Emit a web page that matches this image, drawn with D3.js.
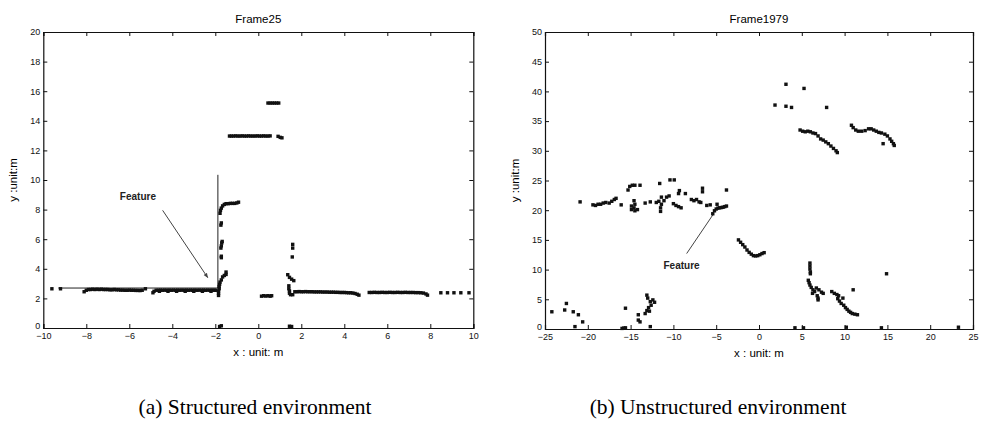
<!DOCTYPE html>
<html>
<head>
<meta charset="utf-8">
<script src="https://cdn.jsdelivr.net/npm/d3@7"></script>
<style>
  body { margin: 0; background: #fff; }
  svg { display: block; }
  .tick text { font-family: "Liberation Sans", Arial, sans-serif; font-size: 9px; fill: #111; }
  .domain, .tick line { stroke: #111; }
</style>
</head>
<body>
<svg id="fig"></svg>
<script>
const width = 981, height = 426;

// ---- Frame25 (structured) ----
const leftTitle = "Frame25";
const leftXTicks = [-10, -8, -6, -4, -2, 0, 2, 4, 6, 8, 10];
const leftYTicks = [0, 2, 4, 6, 8, 10, 12, 14, 16, 18, 20];
const leftPoints = [
  // sparse far left
  [-9.6, 2.65], [-9.2, 2.65],
  // wall segment A
  [-8.1, 2.45], [-8.0, 2.55], [-7.9, 2.6], [-7.8, 2.6], [-7.7, 2.62], [-7.6, 2.6], [-7.5, 2.62], [-7.4, 2.6],
  [-7.3, 2.62], [-7.2, 2.6], [-7.1, 2.6], [-7.0, 2.6], [-6.9, 2.58], [-6.8, 2.58], [-6.7, 2.6], [-6.6, 2.58],
  [-6.5, 2.58], [-6.4, 2.56], [-6.3, 2.56], [-6.2, 2.55], [-6.1, 2.55], [-6.0, 2.56], [-5.9, 2.55], [-5.8, 2.55],
  [-5.7, 2.54], [-5.6, 2.54], [-5.5, 2.53], [-5.4, 2.55], [-5.25, 2.65],
  // wall segment B
  [-4.9, 2.38], [-4.85, 2.48], [-4.75, 2.55], [-4.65, 2.55], [-4.55, 2.56], [-4.45, 2.55], [-4.35, 2.56], [-4.25, 2.55],
  [-4.15, 2.56], [-4.05, 2.55], [-3.95, 2.56], [-3.85, 2.55], [-3.75, 2.56], [-3.65, 2.55], [-3.55, 2.56], [-3.45, 2.55],
  [-3.35, 2.56], [-3.25, 2.55], [-3.15, 2.56], [-3.05, 2.55], [-2.95, 2.56], [-2.85, 2.55], [-2.75, 2.56], [-2.65, 2.55],
  [-2.55, 2.56], [-2.45, 2.55], [-2.35, 2.56], [-2.25, 2.55], [-2.15, 2.56], [-2.05, 2.55], [-1.98, 2.55],
  [-4.6, 2.48], [-4.2, 2.48], [-3.8, 2.48], [-3.4, 2.48], [-3.0, 2.48], [-2.6, 2.48], [-2.2, 2.48],
  // corner column
  [-1.85, 2.2], [-1.85, 2.35], [-1.85, 2.5], [-1.82, 2.65], [-1.82, 2.8], [-1.8, 2.95], [-1.78, 3.1],
  [-1.72, 3.25], [-1.66, 3.45], [-1.58, 3.55], [-1.5, 3.62], [-1.5, 3.78],
  [-1.72, 4.75], [-1.72, 4.85], [-1.74, 5.4], [-1.72, 5.55], [-1.7, 5.75], [-1.68, 5.85],
  [-1.74, 6.95], [-1.72, 7.1],
  [-1.78, 7.75], [-1.76, 7.95], [-1.72, 8.1], [-1.66, 8.25], [-1.58, 8.35], [-1.5, 8.4], [-1.4, 8.4],
  [-1.3, 8.42], [-1.2, 8.42], [-1.1, 8.42], [-1.0, 8.45], [-0.92, 8.5],
  [-1.8, 0.1], [-1.72, 0.15],
  // far wall y=13 and 15.2
  [-1.34, 12.97], [-1.25, 12.97], [-1.15, 12.97], [-1.05, 12.98], [-0.95, 12.97], [-0.85, 12.97], [-0.75, 12.98],
  [-0.65, 12.97], [-0.55, 12.97], [-0.45, 12.98], [-0.35, 12.97], [-0.25, 12.97], [-0.15, 12.97], [-0.05, 12.98],
  [0.05, 12.97], [0.15, 12.97], [0.25, 12.98], [0.35, 12.97], [0.45, 12.97], [0.55, 12.98],
  [0.92, 12.95], [1.02, 12.88], [1.1, 12.85],
  [0.45, 15.2], [0.55, 15.2], [0.65, 15.2], [0.75, 15.2], [0.85, 15.2], [0.95, 15.2],
  // small block y=2.2
  [0.15, 2.15], [0.25, 2.18], [0.35, 2.16], [0.45, 2.18], [0.55, 2.15], [0.62, 2.18],
  // pillar near x=1.5
  [1.6, 5.65], [1.6, 5.4], [1.58, 4.8],
  [1.37, 3.6], [1.45, 3.42], [1.55, 3.3], [1.65, 3.2],
  [1.42, 2.85], [1.42, 2.65], [1.45, 2.5], [1.45, 2.35], [1.5, 2.25], [1.6, 2.25],
  [1.45, 0.12], [1.55, 0.1],
  // right wall
  [1.7, 2.45], [1.8, 2.45], [1.9, 2.46], [2.0, 2.45], [2.1, 2.45], [2.2, 2.46], [2.3, 2.45], [2.4, 2.45],
  [2.5, 2.45], [2.6, 2.44], [2.7, 2.44], [2.8, 2.44], [2.9, 2.44], [3.0, 2.43], [3.1, 2.43], [3.2, 2.43],
  [3.3, 2.42], [3.4, 2.42], [3.5, 2.42], [3.6, 2.41], [3.7, 2.41], [3.8, 2.4], [3.9, 2.4], [4.0, 2.4],
  [4.1, 2.39], [4.2, 2.38], [4.3, 2.38], [4.4, 2.36], [4.5, 2.33], [4.6, 2.28], [4.68, 2.22],
  [5.16, 2.4], [5.28, 2.4], [5.4, 2.41], [5.52, 2.4], [5.64, 2.4], [5.76, 2.41], [5.88, 2.4], [6.0, 2.4],
  [6.12, 2.41], [6.24, 2.4], [6.36, 2.4], [6.48, 2.41], [6.6, 2.4], [6.72, 2.4], [6.84, 2.41], [6.96, 2.4],
  [7.08, 2.4], [7.2, 2.4], [7.32, 2.39], [7.44, 2.39], [7.56, 2.38], [7.68, 2.36], [7.8, 2.3], [7.87, 2.22],
  [8.49, 2.38], [8.8, 2.38], [9.1, 2.38], [9.42, 2.38], [9.8, 2.38]
];
// feature guide lines and arrow (data coords)
const leftGuide = [[-9.3, 2.7], [-1.88, 2.7], [-1.88, 10.35]];
const leftArrow = [[-4.45, 7.95], [-2.35, 3.4]];
const leftLabel = { text: "Feature", x: -5.6, y: 8.85 };

// ---- Frame1979 (unstructured) ----
const rightTitle = "Frame1979";
const rightXTicks = [-25, -20, -15, -10, -5, 0, 5, 10, 15, 20, 25];
const rightYTicks = [0, 5, 10, 15, 20, 25, 30, 35, 40, 45, 50];
const rightPoints = [
  // isolated far points
  [3.15, 41.2], [5.26, 40.5], [1.87, 37.7], [3.15, 37.5], [3.8, 37.3], [7.9, 37.3],
  // upper right walls
  [4.8, 33.5], [5.1, 33.3], [5.4, 33.2], [5.7, 33.3], [6.0, 33.2], [6.3, 33.0], [6.6, 32.9], [6.9, 32.5],
  [7.2, 32.0], [7.5, 31.8], [7.8, 31.5], [8.1, 31.2], [8.4, 30.8], [8.7, 30.4], [9.0, 30.0], [9.15, 29.7],
  [10.8, 34.3], [11.0, 33.9], [11.3, 33.5], [11.6, 33.3], [12.0, 33.3], [12.4, 33.4], [12.8, 33.7], [13.1, 33.7],
  [13.4, 33.5], [13.7, 33.3], [14.0, 33.1], [14.3, 33.0], [14.7, 32.8], [15.0, 32.5], [15.3, 32.0], [15.5, 31.6],
  [15.7, 31.2], [15.8, 30.9], [14.5, 31.2],
  // left scattered band around y=21
  [-20.9, 21.4],
  [-19.4, 20.9], [-19.1, 20.8], [-18.8, 21.0], [-18.5, 21.0], [-18.2, 21.2], [-17.9, 21.3],
  [-17.5, 21.2], [-17.2, 21.5], [-16.9, 21.8], [-16.7, 22.0],
  [-16.1, 20.9],
  [-15.3, 23.4], [-15.1, 24.0], [-14.8, 24.2], [-14.5, 24.2], [-13.9, 24.2],
  [-14.6, 21.6], [-14.5, 21.0], [-14.6, 20.4], [-14.9, 20.1], [-14.5, 19.9], [-14.2, 20.1], [-14.9, 20.7],
  [-13.3, 21.2], [-12.7, 21.4],
  [-11.6, 24.5], [-10.4, 25.1], [-9.9, 25.1],
  [-12.0, 21.3], [-11.7, 21.5], [-11.4, 22.2], [-11.4, 21.0], [-11.5, 20.4], [-11.5, 19.8], [-11.1, 21.6],
  [-10.8, 22.2], [-10.5, 22.4],
  [-9.4, 22.8], [-9.3, 23.3],
  [-10.0, 21.1], [-9.7, 20.8], [-9.4, 20.6], [-9.1, 20.4],
  [-8.6, 22.8],
  [-7.9, 21.8], [-7.6, 21.6], [-7.3, 21.8], [-7.0, 21.4], [-6.8, 21.3],
  [-6.6, 23.7], [-6.6, 23.1],
  [-6.1, 20.8], [-5.7, 20.9], [-4.9, 21.0],
  [-3.8, 23.4],
  // feature segment
  [-5.4, 19.4], [-5.2, 19.9], [-5.0, 20.2], [-4.8, 20.35], [-4.6, 20.4], [-4.4, 20.45], [-4.2, 20.5],
  [-4.0, 20.6], [-3.8, 20.7],
  // curve near origin
  [-2.4, 15.0], [-2.15, 14.6], [-1.9, 14.2], [-1.65, 13.8], [-1.4, 13.3], [-1.15, 12.9], [-0.9, 12.6],
  [-0.65, 12.35], [-0.4, 12.3], [-0.15, 12.35], [0.1, 12.5], [0.35, 12.7], [0.6, 12.85],
  // cluster right of origin
  [5.95, 11.1], [5.95, 10.6], [5.95, 10.1], [6.0, 9.6], [6.0, 9.3],
  [5.76, 8.2], [5.85, 7.8], [5.95, 7.4], [6.1, 7.0], [6.3, 6.6], [6.5, 6.3], [6.25, 6.0],
  [6.7, 6.9], [7.0, 6.6], [7.3, 6.2], [7.5, 6.0], [6.8, 5.6], [6.9, 5.2], [6.9, 4.9],
  [8.5, 6.3], [8.8, 6.0], [9.1, 5.8], [9.3, 5.6],
  [9.2, 5.1], [9.4, 4.7], [9.6, 4.3], [9.8, 5.2], [9.9, 4.0], [10.1, 3.6], [10.3, 3.3], [10.5, 3.0],
  [10.7, 2.8], [10.9, 2.6], [11.2, 2.5], [11.5, 2.4],
  [11.0, 6.6], [14.9, 9.3],
  // bottom-left scatter
  [-24.2, 2.9], [-22.7, 3.2], [-22.5, 4.3], [-21.7, 2.9], [-21.1, 2.4], [-20.6, 1.2], [-21.5, 0.4],
  [-16.0, 0.1], [-15.8, 0.15], [-15.6, 0.2], [-15.6, 3.5], [-14.1, 2.4], [-14.1, 1.5], [-13.9, 1.2],
  [-13.1, 5.7], [-13.0, 5.2], [-12.7, 4.6], [-12.4, 4.9], [-12.2, 4.5], [-12.6, 4.0], [-12.9, 3.6],
  [-13.1, 3.1], [-13.3, 2.6], [-12.8, 3.0], [-12.7, 0.4],
  // points on the floor line
  [4.2, 0.2], [5.2, 0.2], [10.2, 0.3], [14.3, 0.2], [23.3, 0.3]
];
const rightArrow = [[-5.35, 19.3], [-8.45, 12.7]];
const rightLabel = { text: "Feature", x: -9.05, y: 10.6 };

const captions = ["(a) Structured environment", "(b) Unstructured environment"];

const svg = d3.select("#fig").attr("width", width).attr("height", height);

svg.append("defs").append("marker")
  .attr("id", "head")
  .attr("viewBox", "0 0 10 10")
  .attr("refX", 9).attr("refY", 5)
  .attr("markerWidth", 5).attr("markerHeight", 5)
  .attr("orient", "auto")
  .append("path").attr("d", "M0,1 L10,5 L0,9 z").attr("fill", "#444");

function drawPanel(cfg) {
  const x = d3.scaleLinear().domain(cfg.xDomain).range([cfg.left, cfg.right]);
  const y = d3.scaleLinear().domain(cfg.yDomain).range([cfg.bottom, cfg.top]);
  const g = svg.append("g");

  g.append("g").attr("transform", `translate(0,${cfg.bottom})`)
    .call(d3.axisBottom(x).tickValues(cfg.xTicks).tickSize(-4).tickPadding(5)
      .tickFormat(d => d < 0 ? "\u2212" + Math.abs(d) : d));
  g.append("g").attr("transform", `translate(0,${cfg.top})`)
    .call(d3.axisTop(x).tickValues(cfg.xTicks).tickSize(-4).tickFormat(""));
  // y axis: the 0 label sits a little above the corner, as in the original
  g.append("g").attr("transform", `translate(${cfg.left},0)`)
    .call(d3.axisLeft(y).tickValues(cfg.yTicks).tickSize(-4).tickPadding(3))
    .selectAll(".tick text").attr("dy", d => d === 0 ? "0.1em" : "0.32em");
  g.append("g").attr("transform", `translate(${cfg.right},0)`)
    .call(d3.axisRight(y).tickValues(cfg.yTicks).tickSize(-4).tickFormat(""));
  g.selectAll(".domain").attr("stroke-width", 1.2);

  g.append("text")
    .attr("x", (cfg.left + cfg.right) / 2).attr("y", cfg.top - 9)
    .attr("text-anchor", "middle")
    .attr("font-family", "Liberation Sans, Arial, sans-serif").attr("font-size", 11.5)
    .text(cfg.title);
  g.append("text")
    .attr("x", (cfg.left + cfg.right) / 2).attr("y", cfg.bottom + 28)
    .attr("text-anchor", "middle")
    .attr("font-family", "Liberation Sans, Arial, sans-serif").attr("font-size", 11.5)
    .text("x : unit: m");
  g.append("text")
    .attr("transform", `translate(${cfg.left - 26},${(cfg.top + cfg.bottom) / 2}) rotate(-90)`)
    .attr("text-anchor", "middle")
    .attr("font-family", "Liberation Sans, Arial, sans-serif").attr("font-size", 11.5)
    .text("y :unit:m");

  const line = d3.line().x(d => x(d[0])).y(d => y(d[1]));
  if (cfg.guide) {
    g.append("path").attr("d", line(cfg.guide))
      .attr("fill", "none").attr("stroke", "#222").attr("stroke-width", 1);
  }
  g.append("path").attr("d", line(cfg.arrow))
    .attr("fill", "none").attr("stroke", "#444").attr("stroke-width", 1)
    .attr("marker-end", cfg.arrowHead ? "url(#head)" : null);
  g.append("text")
    .attr("x", x(cfg.label.x)).attr("y", y(cfg.label.y))
    .attr("text-anchor", "middle").attr("dominant-baseline", "middle")
    .attr("font-family", "Liberation Sans, Arial, sans-serif").attr("font-size", 10)
    .attr("font-weight", "bold").attr("fill", "#222")
    .text(cfg.label.text);

  g.append("g").selectAll("rect")
    .data(cfg.points)
    .join("rect")
    .attr("x", d => x(d[0]) - 1.7)
    .attr("y", d => y(d[1]) - 1.7)
    .attr("width", 3.4).attr("height", 3.4)
    .attr("fill", "#111");

  svg.append("text")
    .attr("x", cfg.captionX).attr("y", 414)
    .attr("text-anchor", "middle")
    .attr("font-family", "Liberation Serif, serif").attr("font-size", 21.5)
    .text(cfg.caption);
}

drawPanel({
  xDomain: [-10, 10], yDomain: [0, 20], left: 43.3, right: 473.3, top: 32, bottom: 328,
  xTicks: leftXTicks, yTicks: leftYTicks, title: leftTitle, points: leftPoints,
  guide: leftGuide, arrow: leftArrow, arrowHead: true, label: leftLabel,
  caption: captions[0], captionX: 255
});
drawPanel({
  xDomain: [-25, 25], yDomain: [0, 50], left: 545, right: 973, top: 32, bottom: 329,
  xTicks: rightXTicks, yTicks: rightYTicks, title: rightTitle, points: rightPoints,
  guide: null, arrow: rightArrow, arrowHead: false, label: rightLabel,
  caption: captions[1], captionX: 718
});
</script>
</body>
</html>
